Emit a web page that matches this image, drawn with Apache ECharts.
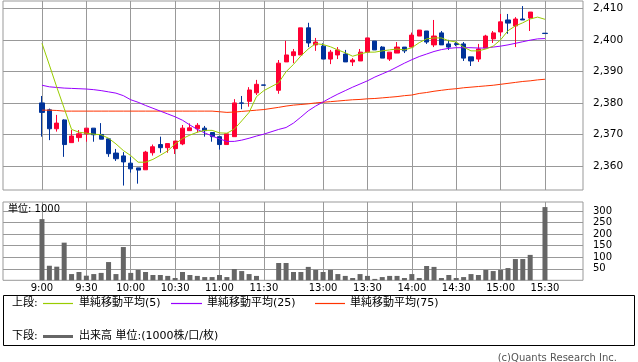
<!DOCTYPE html>
<html><head><meta charset="utf-8">
<script src="https://cdn.jsdelivr.net/npm/echarts@6/dist/echarts.min.js"></script>
<style>html,body{margin:0;padding:0;background:#fff}#c{width:638px;height:362px}</style>
</head><body><div id="c"></div>
<script>
// ---- data (5-minute bars) ----
const times = ['9:00','9:05','9:10','9:15','9:20','9:25','9:30','9:35','9:40','9:45','9:50','9:55',
 '10:00','10:05','10:10','10:15','10:20','10:25','10:30','10:35','10:40','10:45','10:50','10:55',
 '11:00','11:05','11:10','11:15','11:20','11:25','11:30',
 '12:30','12:35','12:40','12:45','12:50','12:55',
 '13:00','13:05','13:10','13:15','13:20','13:25','13:30','13:35','13:40','13:45','13:50','13:55',
 '14:00','14:05','14:10','14:15','14:20','14:25','14:30','14:35','14:40','14:45','14:50','14:55',
 '15:00','15:05','15:10','15:15','15:20','15:25','15:30'];
const openP = [2380,2377.8,2371.8,2374.6,2367.4,2369,2370.2,2372,2370,2368.6,2364.1,2363.2,
 2360.9,2359.4,2358.8,2364.2,2366.8,2365.8,2365.5,2367,2371.2,2371.8,2372,2370.6,
 2369.3,2366.8,2369.3,2380,2380.5,2383.2,2385.7,
 2384,2393,2395,2395.2,2403.8,2398.4,
 2398,2393.9,2395.2,2395.5,2393,2393.3,2396.1,2399.6,2397.7,2393.9,2395.8,2397.7,
 2397.7,2401.2,2402.8,2398.4,2402.2,2398.7,2398.8,2398.7,2394.6,2393.9,2397.4,2400.3,
 2402.5,2406.3,2404.4,2406.6,2406.9,null,2402.1];
const closeP = [2377,2371.8,2373.6,2366.8,2369.5,2370.2,2372,2369.9,2368.5,2363.9,2362.3,2361.3,
 2359.1,2358.7,2364.4,2366.1,2365.8,2367.1,2367.9,2372,2372.1,2372.9,2371.2,2369.3,
 2366.8,2370.2,2380,2379.9,2384.1,2385.9,2385.6,
 2392.6,2395.2,2396.2,2403.8,2399,2399.3,
 2393.9,2396.1,2396.8,2393,2393.6,2396.1,2400.6,2396.8,2394.2,2396.1,2397.7,2396.5,
 2401.5,2403.1,2399.3,2401.2,2398.4,2397.7,2398.5,2394.2,2393.3,2397.1,2401.2,2402.2,
 2405.7,2405.3,2406.6,2406.3,2408.8,null,2402];
const lowP = [2369.3,2368.2,2370.9,2362.9,2367.4,2367.7,2367.7,2367.7,2368.5,2362.9,2361.6,2353.8,
 2357.9,2354.4,2358.8,2363.3,2364.2,2364.2,2363.8,2366.6,2371.2,2370.6,2369.3,2367.7,
 2365.2,2366.8,2369.3,2378,2378.8,2382.5,2385.6,
 2382.9,2393,2392.6,2395.2,2397.7,2396.5,
 2393.9,2392.3,2393.9,2393,2391.7,2393.3,2396.1,2396.8,2394.2,2393.3,2395.8,2395.8,
 2397.7,2401.2,2398.7,2397.7,2398.4,2396.8,2398,2393.3,2391.7,2393,2397.4,2399,
 2401.2,2401.9,2397.7,2406.3,2402.8,null,2402];
const highP = [2382.2,2378.2,2376.2,2374.8,2371.4,2371.4,2372,2372,2373.6,2368.6,2365.4,2364.4,
 2362.8,2359.4,2364.8,2366.8,2369.3,2367.1,2367.9,2373,2373.5,2373.6,2372.7,2370.6,
 2369.3,2370.2,2381.2,2382.2,2385,2387.3,2385.7,
 2393.6,2399.7,2397.1,2403.8,2405.4,2400.6,
 2398.9,2396.8,2397.7,2396.8,2394.2,2397.1,2400.6,2399.6,2398,2396.1,2399.3,2397.7,
 2402.3,2403.1,2402.8,2406.3,2402.8,2400,2399.3,2399.3,2394.6,2398.7,2401.6,2402.8,
 2408.2,2408.2,2407.2,2410.7,2408.8,null,2402.1];
const volume = [265,63,59,163,27,36,20,27,32,79,27,144,32,45,36,23,23,19,10,36,23,19,14,14,23,14,49,40,27,19,null,
 75,75,36,36,58,45,36,45,27,19,10,27,19,6,14,19,19,10,27,10,62,58,10,23,10,14,27,23,45,40,45,53,92,92,110,null,317];
const ma5 = [2398.9,2392.0,2385.0,2378.3,2371.6,2370.7,2370.4,2370.1,2369.9,2368.8,2367.0,2364.9,
 2363.3,2361.2,2361.2,2362.1,2363.4,2364.8,2367.0,2368.7,2369.8,2370.7,2371.3,2371.3,
 2370.5,2370.4,2371.7,2374.3,2377.0,2382.0,2383.9,
 2386.4,2389.9,2392.2,2394.9,2397.1,2398.8,
 2398.5,2397.8,2396.8,2395.9,2394.8,2395.5,2396.1,2396.1,2396.5,2396.8,2397.1,2396.8,
 2397.5,2399.1,2400.3,2400.6,2400.6,2399.7,2399.3,2397.7,2396.5,2396.5,2397.1,2398.0,
 2400.0,2402.9,2404.4,2405.4,2406.6,2407.2,2406.5];
const ma25 = [2385.6,2385.1,2384.9,2384.7,2384.6,2384.5,2384.4,2384.2,2383.9,2383.5,2383.1,2382.3,
 2381.0,2380.2,2379.2,2378.3,2377.4,2376.5,2375.6,2374.5,2373.0,2371.6,2370.5,2369.5,
 2368.6,2367.8,2367.8,2368.2,2368.8,2369.5,2370.1,
 2371.6,2372.2,2373.6,2375.5,2377.5,2379.0,
 2380.3,2381.6,2382.8,2383.9,2385.0,2386.0,2387.0,2388.2,2389.2,2390.2,2391.4,2392.6,
 2393.7,2394.7,2395.5,2396.3,2396.9,2397.3,2397.5,2397.5,2397.5,2397.4,2397.4,2397.7,
 2398.0,2398.4,2398.9,2399.4,2399.9,2400.3,2400.4];
const ma75 = [2377.7,2377.7,2377.6,2377.4,2377.4,2377.4,2377.4,2377.4,2377.4,2377.4,2377.4,2377.4,
 2377.4,2377.4,2377.4,2377.4,2377.4,2377.4,2377.4,2377.4,2377.4,2377.4,2377.4,2377.4,
 2377.2,2377.0,2377.1,2377.3,2377.5,2377.7,2377.9,
 2378.6,2379.0,2379.3,2379.5,2379.7,2380.0,
 2380.2,2380.4,2380.6,2380.8,2381.0,2381.1,2381.3,2381.4,2381.6,2381.8,2382.0,2382.3,
 2382.5,2383.0,2383.3,2383.7,2384.0,2384.3,2384.5,2384.8,2385.0,2385.2,2385.4,2385.6,
 2385.9,2386.2,2386.5,2386.8,2387.0,2387.3,2387.5];
const timeLabels = ['9:00','9:30','10:00','10:30','11:00','11:30','13:00','13:30','14:00','14:30','15:00','15:30'];
const priceTicks = [2360,2370,2380,2390,2400,2410];
const volumeTicks = [50,100,150,200,250,300];

// ---- helpers ----
// slot index along the session axis (lunch break compressed to one empty slot)
function slotOf(t){const p=t.split(':').map(Number);const m=p[0]*60+p[1];return m<=690?(m-540)/5:(m-750)/5+32;}
const slots = times.map(slotOf);
const labelSlots = timeLabels.map(slotOf);
const labelBySlot = {}; timeLabels.forEach((t,i)=>labelBySlot[labelSlots[i]]=t);

const candleData=[], volData=[], ma5Data=[], ma25Data=[], ma75Data=[];
times.forEach((t,i)=>{
  const s=slots[i];
  if(openP[i]!=null) candleData.push([s,openP[i],closeP[i],lowP[i],highP[i]]);
  if(volume[i]!=null) volData.push([s,volume[i]]);
  ma5Data.push([s,ma5[i]]); ma25Data.push([s,ma25[i]]); ma75Data.push([s,ma75[i]]);
});

const FONT = "'DejaVu Sans','Noto Sans CJK JP',sans-serif";
const GRID_C = '#999999';
const X_MIN = -5.27, X_MAX = 73.14;

const chart = echarts.init(document.getElementById('c'), null, {renderer:'canvas'});
const txt = (text,x,y,size,extra)=>({type:'text',silent:true,z:10,style:Object.assign({text,x,y,fill:'#000',font:size+'px '+FONT,
  align:'left',verticalAlign:'middle',textAlign:'left',textVerticalAlign:'middle'},extra||{})});
const seg = (x1,x2,y,color,w)=>({type:'polyline',silent:true,z:10,shape:{points:[[x1,y],[x2,y]]},style:{stroke:color,lineWidth:w,fill:null}});

chart.setOption({
  animation:false,
  backgroundColor:'#fff',
  textStyle:{fontFamily:FONT},
  grid:[
    {left:3,top:1,width:580,height:189,show:true,borderColor:GRID_C,borderWidth:1,backgroundColor:'#fff'},
    {left:3,top:202,width:580,height:78.3,show:true,borderColor:GRID_C,borderWidth:1,backgroundColor:'#fff'}
  ],
  xAxis:[
    {gridIndex:0,type:'value',min:X_MIN,max:X_MAX,axisLine:{show:false},
     axisTick:{show:false,customValues:labelSlots},axisLabel:{show:false,customValues:labelSlots},
     splitLine:{show:true,lineStyle:{color:GRID_C,width:1}}},
    {gridIndex:1,type:'value',min:X_MIN,max:X_MAX,axisLine:{show:false},
     axisTick:{show:false,customValues:labelSlots},
     axisLabel:{show:true,customValues:labelSlots,formatter:v=>labelBySlot[v]||'',fontSize:10,color:'#000',margin:3,fontFamily:FONT},
     splitLine:{show:true,lineStyle:{color:GRID_C,width:1}}}
  ],
  yAxis:[
    {gridIndex:0,type:'value',position:'right',min:2352.39,max:2412.31,axisLine:{show:false},
     axisTick:{show:false,customValues:priceTicks},
     axisLabel:{customValues:priceTicks,formatter:v=>v.toLocaleString('en-US'),fontSize:10.5,color:'#000',margin:10,fontFamily:FONT},
     splitLine:{show:true,lineStyle:{color:GRID_C,width:1}}},
    {gridIndex:1,type:'value',position:'right',min:0,max:339,axisLine:{show:false},
     axisTick:{show:false,customValues:volumeTicks},
     axisLabel:{customValues:volumeTicks,fontSize:10,color:'#000',margin:10,fontFamily:FONT},
     splitLine:{show:true,lineStyle:{color:GRID_C,width:1}}}
  ],
  series:[
    {type:'candlestick',name:'price',xAxisIndex:0,yAxisIndex:0,barWidth:4.6,data:candleData,silent:true,
     itemStyle:{color:'#ff0033',color0:'#003399',borderColor:'#ff0033',borderColor0:'#003399',borderWidth:1}},
    {type:'bar',name:'出来高',xAxisIndex:1,yAxisIndex:1,barWidth:5,data:volData,silent:true,
     itemStyle:{color:'#666666'}},
    {type:'line',name:'単純移動平均(75)',xAxisIndex:0,yAxisIndex:0,data:ma75Data,showSymbol:false,silent:true,
     lineStyle:{color:'#ff3300',width:1},itemStyle:{color:'#ff3300'},z:3},
    {type:'line',name:'単純移動平均(25)',xAxisIndex:0,yAxisIndex:0,data:ma25Data,showSymbol:false,silent:true,
     lineStyle:{color:'#9900ff',width:1},itemStyle:{color:'#9900ff'},z:3},
    {type:'line',name:'単純移動平均(5)',xAxisIndex:0,yAxisIndex:0,data:ma5Data,showSymbol:false,silent:true,
     lineStyle:{color:'#99cc00',width:1},itemStyle:{color:'#99cc00'},z:3}
  ],
  graphic:[
    {type:'rect',silent:true,z:9,shape:{x:3.5,y:295.5,width:631,height:50},style:{fill:'none',stroke:'#000',lineWidth:1}},
    txt('上段:',12,303.5,11),
    seg(43,73,303.5,'#99cc00',1.2),
    txt('単純移動平均(5)',79,303.5,11),
    seg(171,202,303.5,'#9900ff',1.2),
    txt('単純移動平均(25)',207,303.5,11),
    seg(315,345,303.5,'#ff3300',1.2),
    txt('単純移動平均(75)',350,303.5,11),
    txt('下段:',12,336.5,11),
    seg(43,73,336.5,'#666666',3),
    txt('出来高 単位:(1000株/口/枚)',79,336.5,11),
    txt('単位: 1000',8,209,10),
    txt('(c)Quants Research Inc.',617,358,10,{fill:'#555',align:'right',textAlign:'right'})
  ]
});
</script></body></html>
